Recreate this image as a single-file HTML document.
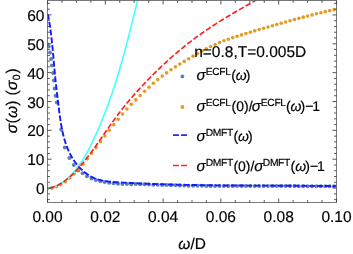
<!DOCTYPE html><html><head><meta charset="utf-8"><style>html,body{margin:0;padding:0;background:#fff;width:353px;height:254px;overflow:hidden}</style></head><body><svg width="353" height="254" viewBox="0 0 353 254" style="position:absolute;left:0;top:0;will-change:transform;font-family:'Liberation Sans',sans-serif">
<rect width="353" height="254" fill="#fff"/>
<defs><clipPath id="c"><rect x="47.50" y="0.50" width="289.00" height="202.00"/></clipPath></defs>
<g clip-path="url(#c)">
<circle cx="47.60" cy="44.50" r="2.00" fill="#5e81b5"/>
<circle cx="48.70" cy="46.40" r="2.00" fill="#5e81b5"/>
<circle cx="50.00" cy="52.60" r="2.00" fill="#5e81b5"/>
<circle cx="51.10" cy="58.90" r="2.00" fill="#5e81b5"/>
<circle cx="51.90" cy="65.40" r="2.00" fill="#5e81b5"/>
<circle cx="53.10" cy="72.90" r="2.00" fill="#5e81b5"/>
<circle cx="53.90" cy="80.40" r="2.00" fill="#5e81b5"/>
<circle cx="54.70" cy="88.40" r="2.00" fill="#5e81b5"/>
<circle cx="55.60" cy="95.70" r="2.00" fill="#5e81b5"/>
<circle cx="56.80" cy="102.60" r="2.00" fill="#5e81b5"/>
<circle cx="61.20" cy="129.50" r="2.00" fill="#5e81b5"/>
<circle cx="64.80" cy="147.40" r="2.00" fill="#5e81b5"/>
<circle cx="69.40" cy="158.00" r="2.00" fill="#5e81b5"/>
<circle cx="73.80" cy="165.00" r="2.00" fill="#5e81b5"/>
<circle cx="78.20" cy="170.60" r="2.00" fill="#5e81b5"/>
<circle cx="82.60" cy="173.20" r="2.00" fill="#5e81b5"/>
<circle cx="87.00" cy="176.20" r="2.00" fill="#5e81b5"/>
<circle cx="91.50" cy="178.50" r="2.00" fill="#5e81b5"/>
<circle cx="95.90" cy="180.10" r="2.00" fill="#5e81b5"/>
<circle cx="100.30" cy="181.20" r="2.00" fill="#5e81b5"/>
<circle cx="104.70" cy="182.10" r="2.00" fill="#5e81b5"/>
<circle cx="109.20" cy="182.80" r="2.00" fill="#5e81b5"/>
<circle cx="113.60" cy="183.30" r="2.00" fill="#5e81b5"/>
<circle cx="118.00" cy="183.70" r="2.00" fill="#5e81b5"/>
<circle cx="122.40" cy="183.90" r="2.00" fill="#5e81b5"/>
<circle cx="126.90" cy="184.10" r="2.00" fill="#5e81b5"/>
<circle cx="131.30" cy="184.30" r="2.00" fill="#5e81b5"/>
<circle cx="135.71" cy="183.95" r="2.00" fill="#5e81b5"/>
<circle cx="140.12" cy="184.15" r="2.00" fill="#5e81b5"/>
<circle cx="144.52" cy="184.34" r="2.00" fill="#5e81b5"/>
<circle cx="148.93" cy="184.51" r="2.00" fill="#5e81b5"/>
<circle cx="153.34" cy="184.68" r="2.00" fill="#5e81b5"/>
<circle cx="157.75" cy="184.83" r="2.00" fill="#5e81b5"/>
<circle cx="162.16" cy="184.97" r="2.00" fill="#5e81b5"/>
<circle cx="166.56" cy="185.11" r="2.00" fill="#5e81b5"/>
<circle cx="170.97" cy="185.23" r="2.00" fill="#5e81b5"/>
<circle cx="175.38" cy="185.34" r="2.00" fill="#5e81b5"/>
<circle cx="179.79" cy="185.45" r="2.00" fill="#5e81b5"/>
<circle cx="184.20" cy="185.55" r="2.00" fill="#5e81b5"/>
<circle cx="188.60" cy="185.64" r="2.00" fill="#5e81b5"/>
<circle cx="193.01" cy="185.72" r="2.00" fill="#5e81b5"/>
<circle cx="197.42" cy="185.80" r="2.00" fill="#5e81b5"/>
<circle cx="201.83" cy="185.86" r="2.00" fill="#5e81b5"/>
<circle cx="206.24" cy="185.90" r="2.00" fill="#5e81b5"/>
<circle cx="210.64" cy="185.94" r="2.00" fill="#5e81b5"/>
<circle cx="215.05" cy="185.98" r="2.00" fill="#5e81b5"/>
<circle cx="219.46" cy="186.01" r="2.00" fill="#5e81b5"/>
<circle cx="223.87" cy="186.03" r="2.00" fill="#5e81b5"/>
<circle cx="228.28" cy="186.05" r="2.00" fill="#5e81b5"/>
<circle cx="232.68" cy="186.07" r="2.00" fill="#5e81b5"/>
<circle cx="237.09" cy="186.08" r="2.00" fill="#5e81b5"/>
<circle cx="241.50" cy="186.09" r="2.00" fill="#5e81b5"/>
<circle cx="245.91" cy="186.10" r="2.00" fill="#5e81b5"/>
<circle cx="250.32" cy="186.11" r="2.00" fill="#5e81b5"/>
<circle cx="254.72" cy="186.11" r="2.00" fill="#5e81b5"/>
<circle cx="259.13" cy="186.11" r="2.00" fill="#5e81b5"/>
<circle cx="263.54" cy="186.11" r="2.00" fill="#5e81b5"/>
<circle cx="267.95" cy="186.11" r="2.00" fill="#5e81b5"/>
<circle cx="272.36" cy="186.11" r="2.00" fill="#5e81b5"/>
<circle cx="276.76" cy="186.11" r="2.00" fill="#5e81b5"/>
<circle cx="281.17" cy="186.11" r="2.00" fill="#5e81b5"/>
<circle cx="285.58" cy="186.11" r="2.00" fill="#5e81b5"/>
<circle cx="289.99" cy="186.11" r="2.00" fill="#5e81b5"/>
<circle cx="294.40" cy="186.12" r="2.00" fill="#5e81b5"/>
<circle cx="298.80" cy="186.13" r="2.00" fill="#5e81b5"/>
<circle cx="303.21" cy="186.13" r="2.00" fill="#5e81b5"/>
<circle cx="307.62" cy="186.15" r="2.00" fill="#5e81b5"/>
<circle cx="312.03" cy="186.16" r="2.00" fill="#5e81b5"/>
<circle cx="316.44" cy="186.18" r="2.00" fill="#5e81b5"/>
<circle cx="320.84" cy="186.20" r="2.00" fill="#5e81b5"/>
<circle cx="325.25" cy="186.23" r="2.00" fill="#5e81b5"/>
<circle cx="329.66" cy="186.27" r="2.00" fill="#5e81b5"/>
<circle cx="334.07" cy="186.30" r="2.00" fill="#5e81b5"/>
<circle cx="47.60" cy="188.49" r="1.80" fill="#e19c24"/>
<circle cx="52.01" cy="188.14" r="1.80" fill="#e19c24"/>
<circle cx="56.42" cy="186.82" r="1.80" fill="#e19c24"/>
<circle cx="60.82" cy="184.62" r="1.80" fill="#e19c24"/>
<circle cx="65.23" cy="181.66" r="1.80" fill="#e19c24"/>
<circle cx="69.64" cy="178.05" r="1.80" fill="#e19c24"/>
<circle cx="74.05" cy="173.87" r="1.80" fill="#e19c24"/>
<circle cx="78.46" cy="169.23" r="1.80" fill="#e19c24"/>
<circle cx="82.86" cy="164.20" r="1.80" fill="#e19c24"/>
<circle cx="87.27" cy="158.86" r="1.80" fill="#e19c24"/>
<circle cx="91.68" cy="153.30" r="1.80" fill="#e19c24"/>
<circle cx="96.09" cy="147.59" r="1.80" fill="#e19c24"/>
<circle cx="100.50" cy="141.80" r="1.80" fill="#e19c24"/>
<circle cx="104.90" cy="136.01" r="1.80" fill="#e19c24"/>
<circle cx="109.31" cy="130.27" r="1.80" fill="#e19c24"/>
<circle cx="113.72" cy="124.65" r="1.80" fill="#e19c24"/>
<circle cx="118.13" cy="119.21" r="1.80" fill="#e19c24"/>
<circle cx="122.54" cy="114.00" r="1.80" fill="#e19c24"/>
<circle cx="126.94" cy="109.07" r="1.80" fill="#e19c24"/>
<circle cx="131.35" cy="104.37" r="1.80" fill="#e19c24"/>
<circle cx="135.76" cy="99.88" r="1.80" fill="#e19c24"/>
<circle cx="140.17" cy="95.53" r="1.80" fill="#e19c24"/>
<circle cx="144.58" cy="91.30" r="1.80" fill="#e19c24"/>
<circle cx="148.98" cy="87.21" r="1.80" fill="#e19c24"/>
<circle cx="153.39" cy="83.29" r="1.80" fill="#e19c24"/>
<circle cx="157.80" cy="79.58" r="1.80" fill="#e19c24"/>
<circle cx="162.21" cy="76.11" r="1.80" fill="#e19c24"/>
<circle cx="166.62" cy="72.86" r="1.80" fill="#e19c24"/>
<circle cx="171.02" cy="69.79" r="1.80" fill="#e19c24"/>
<circle cx="175.43" cy="66.87" r="1.80" fill="#e19c24"/>
<circle cx="179.84" cy="64.08" r="1.80" fill="#e19c24"/>
<circle cx="184.25" cy="61.38" r="1.80" fill="#e19c24"/>
<circle cx="188.66" cy="58.74" r="1.80" fill="#e19c24"/>
<circle cx="193.06" cy="56.15" r="1.80" fill="#e19c24"/>
<circle cx="197.47" cy="53.62" r="1.80" fill="#e19c24"/>
<circle cx="201.88" cy="51.16" r="1.80" fill="#e19c24"/>
<circle cx="206.29" cy="48.81" r="1.80" fill="#e19c24"/>
<circle cx="210.70" cy="46.57" r="1.80" fill="#e19c24"/>
<circle cx="215.10" cy="44.49" r="1.80" fill="#e19c24"/>
<circle cx="219.51" cy="42.56" r="1.80" fill="#e19c24"/>
<circle cx="223.92" cy="40.82" r="1.80" fill="#e19c24"/>
<circle cx="228.33" cy="39.22" r="1.80" fill="#e19c24"/>
<circle cx="232.74" cy="37.72" r="1.80" fill="#e19c24"/>
<circle cx="237.14" cy="36.30" r="1.80" fill="#e19c24"/>
<circle cx="241.55" cy="34.90" r="1.80" fill="#e19c24"/>
<circle cx="245.96" cy="33.54" r="1.80" fill="#e19c24"/>
<circle cx="250.37" cy="32.19" r="1.80" fill="#e19c24"/>
<circle cx="254.78" cy="30.87" r="1.80" fill="#e19c24"/>
<circle cx="259.18" cy="29.57" r="1.80" fill="#e19c24"/>
<circle cx="263.59" cy="28.28" r="1.80" fill="#e19c24"/>
<circle cx="268.00" cy="27.00" r="1.80" fill="#e19c24"/>
<circle cx="272.41" cy="25.73" r="1.80" fill="#e19c24"/>
<circle cx="276.82" cy="24.47" r="1.80" fill="#e19c24"/>
<circle cx="281.22" cy="23.22" r="1.80" fill="#e19c24"/>
<circle cx="285.63" cy="21.98" r="1.80" fill="#e19c24"/>
<circle cx="290.04" cy="20.75" r="1.80" fill="#e19c24"/>
<circle cx="294.45" cy="19.54" r="1.80" fill="#e19c24"/>
<circle cx="298.86" cy="18.34" r="1.80" fill="#e19c24"/>
<circle cx="303.26" cy="17.16" r="1.80" fill="#e19c24"/>
<circle cx="307.67" cy="16.01" r="1.80" fill="#e19c24"/>
<circle cx="312.08" cy="14.88" r="1.80" fill="#e19c24"/>
<circle cx="316.49" cy="13.77" r="1.80" fill="#e19c24"/>
<circle cx="320.90" cy="12.69" r="1.80" fill="#e19c24"/>
<circle cx="325.30" cy="11.65" r="1.80" fill="#e19c24"/>
<circle cx="329.71" cy="10.63" r="1.80" fill="#e19c24"/>
<circle cx="334.12" cy="9.65" r="1.80" fill="#e19c24"/>
<path d="M47.50,188.03 C47.80,188.01 48.70,187.95 49.30,187.87 C49.90,187.79 50.50,187.69 51.11,187.57 C51.71,187.44 52.31,187.29 52.91,187.12 C53.51,186.95 54.11,186.75 54.71,186.53 C55.31,186.32 55.91,186.08 56.51,185.82 C57.11,185.56 57.71,185.27 58.32,184.97 C58.92,184.67 59.52,184.34 60.12,184.00 C60.72,183.66 61.32,183.29 61.92,182.91 C62.52,182.53 63.12,182.13 63.72,181.71 C64.32,181.29 64.92,180.85 65.53,180.40 C66.13,179.94 66.73,179.47 67.33,178.98 C67.93,178.49 68.53,177.98 69.13,177.45 C69.73,176.93 69.64,177.37 70.93,175.84 C72.22,174.30 75.69,169.80 76.86,168.26 C78.03,166.73 77.59,167.16 77.97,166.60 C78.34,166.05 78.73,165.49 79.12,164.94 C79.52,164.39 79.92,163.83 80.32,163.28 C80.72,162.73 81.12,162.17 81.52,161.62 C81.91,161.06 82.30,160.51 82.68,159.96 C83.05,159.40 83.42,158.85 83.77,158.30 C84.12,157.74 84.46,157.19 84.79,156.63 C85.12,156.08 85.43,155.53 85.75,154.97 C86.06,154.42 86.36,153.87 86.66,153.31 C86.96,152.76 87.25,152.20 87.54,151.65 C87.82,151.10 88.11,150.54 88.39,149.99 C88.67,149.44 88.95,148.88 89.23,148.33 C89.51,147.77 89.79,147.22 90.06,146.67 C90.34,146.11 90.61,145.56 90.89,145.01 C91.16,144.45 91.43,143.90 91.70,143.34 C91.97,142.79 92.23,142.24 92.50,141.68 C92.76,141.13 93.03,140.57 93.29,140.02 C93.55,139.47 93.81,138.91 94.07,138.36 C94.33,137.81 94.59,137.25 94.85,136.70 C95.10,136.14 95.36,135.59 95.61,135.04 C95.86,134.48 96.11,133.93 96.36,133.38 C96.61,132.82 96.86,132.27 97.11,131.71 C97.36,131.16 97.60,130.61 97.84,130.05 C98.09,129.50 98.33,128.95 98.57,128.39 C98.81,127.84 99.05,127.28 99.29,126.73 C99.53,126.18 99.76,125.62 100.00,125.07 C100.23,124.52 100.47,123.96 100.70,123.41 C100.93,122.85 101.16,122.30 101.39,121.75 C101.62,121.19 101.85,120.64 102.08,120.08 C102.30,119.53 102.53,118.98 102.75,118.42 C102.98,117.87 103.20,117.32 103.42,116.76 C103.64,116.21 103.86,115.65 104.08,115.10 C104.30,114.55 104.52,113.99 104.74,113.44 C104.95,112.89 105.17,112.33 105.38,111.78 C105.59,111.22 105.81,110.67 106.02,110.12 C106.23,109.56 106.44,109.01 106.65,108.46 C106.86,107.90 107.06,107.35 107.27,106.79 C107.48,106.24 107.68,105.69 107.89,105.13 C108.09,104.58 108.29,104.03 108.49,103.47 C108.70,102.92 108.90,102.36 109.10,101.81 C109.30,101.26 109.49,100.70 109.69,100.15 C109.89,99.59 110.08,99.04 110.28,98.49 C110.47,97.93 110.67,97.38 110.86,96.83 C111.05,96.27 111.24,95.72 111.44,95.16 C111.63,94.61 111.82,94.06 112.00,93.50 C112.19,92.95 112.38,92.40 112.57,91.84 C112.75,91.29 112.94,90.73 113.12,90.18 C113.31,89.63 113.49,89.07 113.67,88.52 C113.86,87.97 114.04,87.41 114.22,86.86 C114.40,86.30 114.58,85.75 114.76,85.20 C114.94,84.64 115.11,84.09 115.29,83.54 C115.47,82.98 115.64,82.43 115.82,81.87 C115.99,81.32 116.17,80.77 116.34,80.21 C116.52,79.66 116.69,79.11 116.86,78.55 C117.03,78.00 117.20,77.44 117.37,76.89 C117.54,76.34 117.71,75.78 117.88,75.23 C118.05,74.67 118.22,74.12 118.38,73.57 C118.55,73.01 118.71,72.46 118.88,71.91 C119.05,71.35 119.21,70.80 119.37,70.24 C119.54,69.69 119.70,69.14 119.86,68.58 C120.02,68.03 120.19,67.48 120.35,66.92 C120.51,66.37 120.67,65.81 120.83,65.26 C120.99,64.71 121.14,64.15 121.30,63.60 C121.46,63.05 121.62,62.49 121.78,61.94 C121.93,61.38 122.09,60.83 122.24,60.28 C122.40,59.72 122.55,59.17 122.71,58.62 C122.86,58.06 123.02,57.51 123.17,56.95 C123.32,56.40 123.48,55.85 123.63,55.29 C123.78,54.74 123.93,54.18 124.08,53.63 C124.23,53.08 124.38,52.52 124.53,51.97 C124.68,51.42 124.83,50.86 124.98,50.31 C125.13,49.75 125.28,49.20 125.42,48.65 C125.57,48.09 125.72,47.54 125.87,46.99 C126.01,46.43 126.16,45.88 126.31,45.32 C126.45,44.77 126.60,44.22 126.74,43.66 C126.89,43.11 127.03,42.56 127.18,42.00 C127.32,41.45 127.47,40.89 127.61,40.34 C127.75,39.79 127.90,39.23 128.04,38.68 C128.18,38.13 128.32,37.57 128.47,37.02 C128.61,36.46 128.75,35.91 128.89,35.36 C129.03,34.80 129.17,34.25 129.31,33.69 C129.46,33.14 129.60,32.59 129.74,32.03 C129.88,31.48 130.02,30.93 130.16,30.37 C130.30,29.82 130.44,29.26 130.58,28.71 C130.71,28.16 130.85,27.60 130.99,27.05 C131.13,26.50 131.27,25.94 131.41,25.39 C131.55,24.83 131.69,24.28 131.82,23.73 C131.96,23.17 132.10,22.62 132.24,22.07 C132.37,21.51 132.51,20.96 132.65,20.40 C132.79,19.85 132.92,19.30 133.06,18.74 C133.20,18.19 133.34,17.64 133.47,17.08 C133.61,16.53 133.75,15.97 133.88,15.42 C134.02,14.87 134.16,14.31 134.30,13.76 C134.43,13.21 134.57,12.65 134.71,12.10 C134.84,11.54 134.98,10.99 135.12,10.44 C135.25,9.88 135.39,9.33 135.53,8.77 C135.66,8.22 135.80,7.67 135.94,7.11 C136.07,6.56 136.21,6.01 136.35,5.45 C136.48,4.90 136.62,4.34 136.76,3.79 C136.89,3.24 137.03,2.68 137.17,2.13 C137.31,1.58 137.44,1.02 137.58,0.47 C137.72,-0.09 137.85,-0.64 137.99,-1.19 C138.13,-1.75 138.27,-2.30 138.41,-2.85 C138.54,-3.41 138.68,-3.96 138.82,-4.52 C138.96,-5.07 139.10,-5.62 139.24,-6.18 C139.37,-6.73 139.51,-7.28 139.65,-7.84 C139.79,-8.39 140.00,-9.22 140.07,-9.50" fill="none" stroke="#44ffff" stroke-width="1.60"/>
<path d="M47.88,14.31 C47.95,14.67 48.17,15.75 48.31,16.46 C48.45,17.18 48.58,17.89 48.71,18.60 C48.84,19.32 48.97,20.03 49.09,20.74 C49.22,21.45 49.33,22.16 49.45,22.87 C49.57,23.57 49.68,24.28 49.79,24.99 C49.90,25.69 50.01,26.40 50.11,27.10 C50.21,27.81 50.31,28.51 50.41,29.21 C50.51,29.91 50.60,30.62 50.70,31.32 C50.79,32.02 50.88,32.72 50.97,33.41 C51.05,34.11 51.14,34.81 51.22,35.51 C51.31,36.21 51.39,36.90 51.47,37.60 C51.55,38.29 51.62,38.99 51.70,39.68 C51.78,40.38 51.85,41.07 51.92,41.77 C52.00,42.46 52.07,43.15 52.14,43.84 C52.21,44.54 52.28,45.23 52.35,45.92 C52.41,46.61 52.48,47.30 52.55,47.99 C52.61,48.68 52.68,49.37 52.74,50.06 C52.81,50.75 52.87,51.44 52.93,52.13 C53.00,52.82 53.06,53.51 53.12,54.20 C53.18,54.89 53.24,55.58 53.31,56.26 C53.37,56.95 53.43,57.64 53.49,58.33 C53.55,59.02 53.61,59.71 53.67,60.39 C53.73,61.08 53.79,61.77 53.85,62.46 C53.91,63.14 53.98,63.83 54.04,64.52 C54.10,65.21 54.16,65.90 54.22,66.58 C54.28,67.27 54.34,67.96 54.41,68.65 C54.47,69.34 54.53,70.02 54.60,70.71 C54.66,71.40 54.72,72.09 54.79,72.78 C54.85,73.47 54.92,74.16 54.99,74.85 C55.05,75.54 55.12,76.23 55.19,76.92 C55.26,77.61 55.33,78.30 55.40,78.99 C55.47,79.68 55.55,80.37 55.62,81.07 C55.69,81.76 55.77,82.45 55.84,83.15 C55.92,83.84 56.00,84.53 56.08,85.23 C56.15,85.92 56.23,86.62 56.31,87.31 C56.39,88.01 56.47,88.70 56.55,89.40 C56.64,90.10 56.72,90.80 56.80,91.50 C56.88,92.19 56.97,92.89 57.05,93.59 C57.13,94.29 57.22,95.00 57.30,95.70 C57.39,96.40 57.47,97.10 57.56,97.81 C57.64,98.51 57.73,99.22 57.81,99.92 C57.90,100.63 57.99,101.33 58.07,102.04 C58.16,102.75 58.24,103.46 58.33,104.17 C58.41,104.88 58.50,105.59 58.59,106.30 C58.67,107.01 58.76,107.73 58.85,108.44 C58.94,109.15 59.02,109.87 59.11,110.58 C59.20,111.30 59.29,112.01 59.39,112.73 C59.48,113.44 59.57,114.15 59.67,114.87 C59.76,115.58 59.86,116.30 59.96,117.01 C60.06,117.72 60.16,118.44 60.27,119.15 C60.38,119.86 60.48,120.57 60.60,121.29 C60.71,122.00 60.82,122.71 60.94,123.42 C61.06,124.12 61.18,124.83 61.30,125.54 C61.43,126.24 61.56,126.95 61.69,127.65 C61.83,128.35 61.96,129.06 62.11,129.75 C62.25,130.45 62.40,131.15 62.55,131.85 C62.70,132.54 62.86,133.23 63.02,133.93 C63.18,134.62 63.35,135.30 63.53,135.99 C63.70,136.67 63.88,137.36 64.07,138.04 C64.25,138.72 64.44,139.39 64.64,140.07 C64.84,140.74 65.05,141.41 65.26,142.08 C65.47,142.74 65.69,143.41 65.92,144.07 C66.15,144.73 66.38,145.38 66.63,146.04 C66.87,146.69 67.12,147.34 67.38,147.98 C67.63,148.62 67.90,149.26 68.18,149.90 C68.45,150.53 68.73,151.16 69.03,151.79 C69.32,152.42 69.62,153.04 69.93,153.65 C70.24,154.27 70.56,154.88 70.89,155.49 C71.22,156.09 71.56,156.69 71.91,157.29 C72.26,157.89 72.62,158.48 72.99,159.06 C73.36,159.64 73.74,160.22 74.14,160.80 C74.53,161.37 74.93,161.94 75.35,162.50 C75.76,163.06 76.18,163.61 76.62,164.16 C77.06,164.71 77.51,165.25 77.97,165.78 C78.43,166.32 78.90,166.84 79.38,167.36 C79.86,167.88 80.36,168.39 80.86,168.89 C81.36,169.38 81.88,169.87 82.40,170.35 C82.92,170.83 83.46,171.29 84.00,171.75 C84.54,172.20 85.09,172.64 85.65,173.07 C86.21,173.49 86.78,173.91 87.36,174.30 C87.94,174.70 88.52,175.08 89.11,175.45 C89.71,175.82 90.31,176.17 90.91,176.50 C91.52,176.83 92.14,177.14 92.76,177.44 C93.38,177.73 94.01,178.01 94.64,178.27 C95.28,178.53 95.92,178.77 96.56,178.99 C97.21,179.22 97.86,179.42 98.52,179.62 C99.17,179.81 99.84,179.99 100.50,180.15 C101.17,180.32 101.84,180.47 102.51,180.61 C103.19,180.75 103.87,180.87 104.55,180.99 C105.23,181.11 105.92,181.21 106.61,181.31 C107.30,181.41 107.99,181.50 108.68,181.58 C109.38,181.66 110.07,181.73 110.77,181.80 C111.47,181.87 112.17,181.93 112.87,181.98 C113.58,182.04 114.28,182.09 114.99,182.14 C115.69,182.19 116.40,182.23 117.10,182.27 C117.81,182.32 118.51,182.36 119.22,182.40 C119.93,182.44 120.63,182.48 121.34,182.52 C122.05,182.56 122.75,182.59 123.46,182.63 C124.16,182.67 124.87,182.71 125.58,182.75 C126.28,182.78 126.99,182.82 127.69,182.86 C128.40,182.89 129.10,182.93 129.81,182.97 C130.52,183.00 131.22,183.04 131.93,183.07 C132.63,183.11 133.34,183.14 134.04,183.17 C134.75,183.21 135.45,183.24 136.16,183.27 C136.87,183.30 137.57,183.34 138.28,183.37 C138.98,183.40 139.69,183.43 140.39,183.46 C141.10,183.49 141.80,183.52 142.51,183.55 C143.21,183.58 143.92,183.61 144.62,183.64 C145.33,183.67 146.03,183.70 146.74,183.73 C147.44,183.75 148.15,183.78 148.85,183.81 C149.56,183.84 150.26,183.86 150.97,183.89 C151.67,183.92 152.37,183.94 153.08,183.97 C153.78,183.99 154.49,184.02 155.19,184.04 C155.90,184.07 156.60,184.09 157.31,184.11 C158.01,184.14 158.72,184.16 159.42,184.19 C160.12,184.21 160.83,184.23 161.53,184.25 C162.24,184.28 162.94,184.30 163.64,184.32 C164.35,184.34 165.05,184.36 165.76,184.38 C166.46,184.40 167.17,184.42 167.87,184.44 C168.57,184.46 169.28,184.48 169.98,184.50 C170.69,184.52 171.39,184.54 172.09,184.56 C172.80,184.58 173.50,184.60 174.20,184.62 C174.91,184.63 175.61,184.65 176.32,184.67 C177.02,184.69 177.72,184.70 178.43,184.72 C179.13,184.74 179.83,184.75 180.54,184.77 C181.24,184.78 181.94,184.80 182.65,184.82 C183.35,184.83 184.05,184.85 184.76,184.86 C185.46,184.88 186.16,184.89 186.87,184.90 C187.57,184.92 188.27,184.93 188.98,184.95 C189.68,184.96 190.38,184.97 191.09,184.99 C191.79,185.00 192.49,185.01 193.20,185.02 C193.90,185.04 194.60,185.05 195.31,185.06 C196.01,185.07 196.71,185.08 197.42,185.10 C198.12,185.11 198.82,185.12 199.52,185.13 C200.23,185.14 200.93,185.15 201.63,185.16 C202.34,185.17 203.04,185.18 203.74,185.19 C204.45,185.20 205.15,185.21 205.85,185.22 C206.55,185.23 207.26,185.24 207.96,185.25 C208.66,185.26 209.36,185.27 210.07,185.28 C210.77,185.29 211.47,185.29 212.18,185.30 C212.88,185.31 213.58,185.32 214.28,185.33 C214.99,185.33 215.69,185.34 216.39,185.35 C217.09,185.36 217.80,185.36 218.50,185.37 C219.20,185.38 219.90,185.38 220.61,185.39 C221.31,185.40 222.01,185.40 222.71,185.41 C223.42,185.42 224.12,185.42 224.82,185.43 C225.52,185.44 226.23,185.44 226.93,185.45 C227.63,185.45 228.33,185.46 229.04,185.46 C229.74,185.47 230.44,185.47 231.14,185.48 C231.85,185.48 232.55,185.49 233.25,185.49 C233.95,185.50 234.65,185.50 235.36,185.51 C236.06,185.51 236.76,185.52 237.46,185.52 C238.17,185.53 238.87,185.53 239.57,185.53 C240.27,185.54 240.98,185.54 241.68,185.55 C242.38,185.55 243.08,185.55 243.78,185.56 C244.49,185.56 245.19,185.57 245.89,185.57 C246.59,185.57 247.30,185.58 248.00,185.58 C248.70,185.58 249.40,185.59 250.10,185.59 C250.81,185.59 251.51,185.60 252.21,185.60 C252.91,185.60 253.61,185.61 254.32,185.61 C255.02,185.61 255.72,185.61 256.42,185.62 C257.12,185.62 257.83,185.62 258.53,185.63 C259.23,185.63 259.93,185.63 260.64,185.63 C261.34,185.64 262.04,185.64 262.74,185.64 C263.44,185.64 264.15,185.65 264.85,185.65 C265.55,185.65 266.25,185.65 266.95,185.66 C267.66,185.66 268.36,185.66 269.06,185.66 C269.76,185.67 270.46,185.67 271.17,185.67 C271.87,185.67 272.57,185.68 273.27,185.68 C273.98,185.68 274.68,185.68 275.38,185.69 C276.08,185.69 276.78,185.69 277.49,185.69 C278.19,185.70 278.89,185.70 279.59,185.70 C280.29,185.71 281.00,185.71 281.70,185.71 C282.40,185.71 283.10,185.72 283.80,185.72 C284.51,185.72 285.21,185.72 285.91,185.73 C286.61,185.73 287.32,185.73 288.02,185.74 C288.72,185.74 289.42,185.74 290.12,185.75 C290.83,185.75 291.53,185.75 292.23,185.76 C292.93,185.76 293.63,185.76 294.34,185.77 C295.04,185.77 295.74,185.77 296.44,185.78 C297.15,185.78 297.85,185.78 298.55,185.79 C299.25,185.79 299.95,185.79 300.66,185.80 C301.36,185.80 302.06,185.81 302.76,185.81 C303.47,185.82 304.17,185.82 304.87,185.82 C305.57,185.83 306.28,185.83 306.98,185.84 C307.68,185.84 308.38,185.85 309.09,185.85 C309.79,185.86 310.49,185.86 311.19,185.87 C311.89,185.87 312.60,185.88 313.30,185.88 C314.00,185.89 314.70,185.89 315.41,185.90 C316.11,185.91 316.81,185.91 317.51,185.92 C318.22,185.92 318.92,185.93 319.62,185.94 C320.32,185.94 321.03,185.95 321.73,185.96 C322.43,185.96 323.14,185.97 323.84,185.98 C324.54,185.99 325.24,185.99 325.95,186.00 C326.65,186.01 327.35,186.02 328.05,186.02 C328.76,186.03 329.46,186.04 330.16,186.05 C330.87,186.06 331.57,186.07 332.27,186.07 C332.97,186.08 333.68,186.09 334.38,186.10 C335.08,186.11 336.14,186.12 336.49,186.13" fill="none" stroke="#1818ff" stroke-width="1.90" stroke-dasharray="5.75 2.1" stroke-dashoffset="0.2"/>
<path d="M47.50,188.03 C47.80,188.01 48.70,187.95 49.30,187.87 C49.90,187.79 50.50,187.69 51.11,187.57 C51.71,187.44 52.31,187.29 52.91,187.12 C53.51,186.95 54.11,186.75 54.71,186.53 C55.31,186.32 55.91,186.08 56.51,185.82 C57.11,185.56 57.71,185.27 58.32,184.97 C58.92,184.67 59.52,184.34 60.12,184.00 C60.72,183.66 61.32,183.29 61.92,182.91 C62.52,182.53 63.12,182.13 63.72,181.71 C64.32,181.29 64.92,180.85 65.53,180.40 C66.13,179.94 66.73,179.47 67.33,178.98 C67.93,178.49 68.53,177.98 69.13,177.45 C69.73,176.93 70.33,176.39 70.93,175.84 C71.53,175.28 72.13,174.71 72.74,174.12 C73.34,173.54 73.94,172.94 74.54,172.32 C75.14,171.71 75.74,171.08 76.34,170.44 C76.94,169.80 77.54,169.14 78.14,168.48 C78.74,167.81 79.34,167.13 79.95,166.44 C80.55,165.74 81.15,165.04 81.75,164.33 C82.35,163.61 82.95,162.89 83.55,162.15 C84.15,161.41 84.75,160.67 85.35,159.91 C85.95,159.16 86.55,158.39 87.16,157.62 C87.76,156.84 88.36,156.06 88.96,155.27 C89.56,154.48 90.16,153.68 90.76,152.87 C91.36,152.06 91.96,151.25 92.56,150.43 C93.16,149.61 93.76,148.78 94.37,147.95 C94.97,147.11 95.57,146.27 96.17,145.43 C96.77,144.58 97.37,143.73 97.97,142.88 C98.57,142.03 99.17,141.17 99.77,140.31 C100.37,139.45 100.97,138.59 101.58,137.73 C102.18,136.86 102.78,136.00 103.38,135.13 C103.98,134.27 104.58,133.40 105.18,132.53 C105.78,131.67 106.38,130.80 106.98,129.94 C107.58,129.07 108.18,128.21 108.79,127.35 C109.39,126.49 109.99,125.63 110.59,124.78 C111.19,123.92 111.79,123.07 112.39,122.23 C112.99,121.38 113.59,120.54 114.19,119.71 C114.79,118.87 115.39,118.05 116.00,117.22 C116.60,116.40 117.20,115.59 117.80,114.78 C118.40,113.97 119.00,113.17 119.60,112.39 C120.20,111.60 120.80,110.81 121.40,110.04 C122.00,109.27 122.61,108.50 123.21,107.75 C123.81,106.99 124.41,106.24 125.01,105.50 C125.61,104.76 126.21,104.02 126.81,103.30 C127.41,102.57 128.01,101.85 128.61,101.14 C129.21,100.42 129.82,99.71 130.42,99.01 C131.02,98.31 131.62,97.62 132.22,96.93 C132.82,96.24 133.42,95.55 134.02,94.87 C134.62,94.19 135.22,93.52 135.82,92.85 C136.42,92.18 137.03,91.52 137.63,90.86 C138.23,90.19 138.83,89.54 139.43,88.89 C140.03,88.23 140.63,87.58 141.23,86.94 C141.83,86.29 142.43,85.65 143.03,85.01 C143.63,84.37 144.24,83.74 144.84,83.11 C145.44,82.48 146.04,81.85 146.64,81.22 C147.24,80.60 147.84,79.98 148.44,79.36 C149.04,78.74 149.64,78.13 150.24,77.52 C150.84,76.90 151.45,76.30 152.05,75.69 C152.65,75.09 153.25,74.49 153.85,73.89 C154.45,73.29 155.05,72.70 155.65,72.11 C156.25,71.52 156.85,70.93 157.45,70.35 C158.05,69.76 158.66,69.18 159.26,68.61 C159.86,68.03 160.46,67.46 161.06,66.89 C161.66,66.32 162.26,65.75 162.86,65.19 C163.46,64.62 164.06,64.06 164.66,63.51 C165.26,62.95 165.87,62.40 166.47,61.85 C167.07,61.30 167.67,60.75 168.27,60.21 C168.87,59.66 169.47,59.12 170.07,58.59 C170.67,58.05 171.27,57.52 171.87,56.99 C172.47,56.46 173.08,55.93 173.68,55.41 C174.28,54.88 174.88,54.36 175.48,53.85 C176.08,53.33 176.68,52.81 177.28,52.30 C177.88,51.79 178.48,51.29 179.08,50.78 C179.68,50.28 180.29,49.78 180.89,49.28 C181.49,48.78 182.09,48.29 182.69,47.80 C183.29,47.31 183.89,46.82 184.49,46.34 C185.09,45.85 185.69,45.37 186.29,44.89 C186.89,44.42 187.50,43.94 188.10,43.47 C188.70,43.00 189.30,42.53 189.90,42.07 C190.50,41.60 191.10,41.14 191.70,40.68 C192.30,40.22 192.90,39.77 193.50,39.31 C194.11,38.86 194.71,38.41 195.31,37.97 C195.91,37.52 196.51,37.08 197.11,36.64 C197.71,36.20 198.31,35.76 198.91,35.33 C199.51,34.90 200.11,34.47 200.71,34.04 C201.32,33.61 201.92,33.19 202.52,32.77 C203.12,32.35 203.72,31.93 204.32,31.51 C204.92,31.10 205.52,30.69 206.12,30.28 C206.72,29.87 207.32,29.46 207.92,29.06 C208.53,28.65 209.13,28.25 209.73,27.85 C210.33,27.45 210.93,27.06 211.53,26.66 C212.13,26.27 212.73,25.88 213.33,25.49 C213.93,25.10 214.53,24.71 215.13,24.32 C215.74,23.94 216.34,23.56 216.94,23.18 C217.54,22.80 218.14,22.42 218.74,22.04 C219.34,21.66 219.94,21.29 220.54,20.92 C221.14,20.54 221.74,20.17 222.34,19.80 C222.95,19.43 223.55,19.06 224.15,18.70 C224.75,18.33 225.35,17.97 225.95,17.60 C226.55,17.24 227.15,16.88 227.75,16.52 C228.35,16.16 228.95,15.80 229.55,15.44 C230.16,15.09 230.76,14.73 231.36,14.37 C231.96,14.02 232.56,13.66 233.16,13.31 C233.76,12.96 234.36,12.61 234.96,12.26 C235.56,11.90 236.16,11.55 236.76,11.21 C237.37,10.86 237.97,10.51 238.57,10.16 C239.17,9.81 239.77,9.47 240.37,9.12 C240.97,8.77 241.57,8.43 242.17,8.08 C242.77,7.74 243.37,7.39 243.97,7.05 C244.58,6.70 245.18,6.36 245.78,6.01 C246.38,5.67 246.98,5.33 247.58,4.98 C248.18,4.64 248.78,4.29 249.38,3.95 C249.98,3.61 250.58,3.26 251.18,2.92 C251.79,2.58 252.39,2.23 252.99,1.89 C253.59,1.55 254.19,1.20 254.79,0.86 C255.39,0.51 255.99,0.17 256.59,-0.18 C257.19,-0.52 257.79,-0.87 258.39,-1.21 C259.00,-1.56 259.60,-1.91 260.20,-2.25 C260.80,-2.60 261.70,-3.12 262.00,-3.30" fill="none" stroke="#ff1c1c" stroke-width="1.60" stroke-dasharray="5.5 2.25" stroke-dashoffset="5.75"/>
</g>
<g stroke="#585858" stroke-width="0.80" fill="none" shape-rendering="auto">
<rect x="47.50" y="0.50" width="289.00" height="202.00"/>
<path d="M47.50,202.50v-4.00M47.50,0.50v4.00M61.95,202.50v-2.40M61.95,0.50v2.40M76.40,202.50v-2.40M76.40,0.50v2.40M90.85,202.50v-2.40M90.85,0.50v2.40M105.30,202.50v-4.00M105.30,0.50v4.00M119.75,202.50v-2.40M119.75,0.50v2.40M134.20,202.50v-2.40M134.20,0.50v2.40M148.65,202.50v-2.40M148.65,0.50v2.40M163.10,202.50v-4.00M163.10,0.50v4.00M177.55,202.50v-2.40M177.55,0.50v2.40M192.00,202.50v-2.40M192.00,0.50v2.40M206.45,202.50v-2.40M206.45,0.50v2.40M220.90,202.50v-4.00M220.90,0.50v4.00M235.35,202.50v-2.40M235.35,0.50v2.40M249.80,202.50v-2.40M249.80,0.50v2.40M264.25,202.50v-2.40M264.25,0.50v2.40M278.70,202.50v-4.00M278.70,0.50v4.00M293.15,202.50v-2.40M293.15,0.50v2.40M307.60,202.50v-2.40M307.60,0.50v2.40M322.05,202.50v-2.40M322.05,0.50v2.40M336.50,202.50v-4.00M336.50,0.50v4.00M47.50,199.61h2.40M336.50,199.61h-2.40M47.50,193.84h2.40M336.50,193.84h-2.40M47.50,188.07h4.00M336.50,188.07h-4.00M47.50,182.30h2.40M336.50,182.30h-2.40M47.50,176.53h2.40M336.50,176.53h-2.40M47.50,170.76h2.40M336.50,170.76h-2.40M47.50,164.99h2.40M336.50,164.99h-2.40M47.50,159.21h4.00M336.50,159.21h-4.00M47.50,153.44h2.40M336.50,153.44h-2.40M47.50,147.67h2.40M336.50,147.67h-2.40M47.50,141.90h2.40M336.50,141.90h-2.40M47.50,136.13h2.40M336.50,136.13h-2.40M47.50,130.36h4.00M336.50,130.36h-4.00M47.50,124.59h2.40M336.50,124.59h-2.40M47.50,118.81h2.40M336.50,118.81h-2.40M47.50,113.04h2.40M336.50,113.04h-2.40M47.50,107.27h2.40M336.50,107.27h-2.40M47.50,101.50h4.00M336.50,101.50h-4.00M47.50,95.73h2.40M336.50,95.73h-2.40M47.50,89.96h2.40M336.50,89.96h-2.40M47.50,84.19h2.40M336.50,84.19h-2.40M47.50,78.41h2.40M336.50,78.41h-2.40M47.50,72.64h4.00M336.50,72.64h-4.00M47.50,66.87h2.40M336.50,66.87h-2.40M47.50,61.10h2.40M336.50,61.10h-2.40M47.50,55.33h2.40M336.50,55.33h-2.40M47.50,49.56h2.40M336.50,49.56h-2.40M47.50,43.79h4.00M336.50,43.79h-4.00M47.50,38.01h2.40M336.50,38.01h-2.40M47.50,32.24h2.40M336.50,32.24h-2.40M47.50,26.47h2.40M336.50,26.47h-2.40M47.50,20.70h2.40M336.50,20.70h-2.40M47.50,14.93h4.00M336.50,14.93h-4.00M47.50,9.16h2.40M336.50,9.16h-2.40M47.50,3.39h2.40M336.50,3.39h-2.40" stroke="#444" stroke-width="0.9"/>
</g>
<mask id="m"><rect width="353" height="254" fill="#fff"/></mask><g mask="url(#m)" text-rendering="geometricPrecision" stroke="#000" stroke-width="0.18"><g font-size="15.5" fill="#000">
<text x="47.50" y="222.20" text-anchor="middle">0.00</text>
<text x="105.30" y="222.20" text-anchor="middle">0.02</text>
<text x="163.10" y="222.20" text-anchor="middle">0.04</text>
<text x="220.90" y="222.20" text-anchor="middle">0.06</text>
<text x="278.70" y="222.20" text-anchor="middle">0.08</text>
<text x="336.50" y="222.20" text-anchor="middle">0.10</text>
<text x="44.50" y="194.17" text-anchor="end">0</text>
<text x="44.50" y="165.31" text-anchor="end">10</text>
<text x="44.50" y="136.46" text-anchor="end">20</text>
<text x="44.50" y="107.60" text-anchor="end">30</text>
<text x="44.50" y="78.74" text-anchor="end">40</text>
<text x="44.50" y="49.89" text-anchor="end">50</text>
<text x="44.50" y="21.03" text-anchor="end">60</text>
</g>
<text x="194.2" y="57.3" font-size="15.5">n=0.8,T=0.005D</text><text x="196.5" y="80.3" font-size="14"><tspan font-style="italic" font-size="15.2" dx="0">σ</tspan><tspan font-size="10.3" letter-spacing="-0.35" dy="-5.0" dx="0.0">ECFL</tspan><tspan dy="5.0" dx="0.55">(</tspan><tspan font-style="italic" dx="0">ω</tspan><tspan dx="-0.9">)</tspan></text><text x="196.5" y="110.5" font-size="14"><tspan font-style="italic" font-size="15.2" dx="0">σ</tspan><tspan font-size="10.3" letter-spacing="-0.35" dy="-5.0" dx="0.0">ECFL</tspan><tspan dy="5.0" dx="0.95">(0)/</tspan><tspan font-style="italic" font-size="15.2" dx="-0.7">σ</tspan><tspan font-size="10.3" letter-spacing="-0.35" dy="-5.0" dx="-0.2">ECFL</tspan><tspan dy="5.0" dx="0.14999999999999997">(</tspan><tspan font-style="italic" dx="0">ω</tspan><tspan dx="-0.9">)</tspan><tspan dx="0">−</tspan><tspan dx="-1.1">1</tspan></text><text x="196.5" y="141.2" font-size="14"><tspan font-style="italic" font-size="15.2" dx="0">σ</tspan><tspan font-size="10.3" letter-spacing="-0.35" dy="-5.0" dx="0.0">DMFT</tspan><tspan dy="5.0" dx="0.55">(</tspan><tspan font-style="italic" dx="0">ω</tspan><tspan dx="-0.9">)</tspan></text><text x="196.5" y="171.4" font-size="14"><tspan font-style="italic" font-size="15.2" dx="0">σ</tspan><tspan font-size="10.3" letter-spacing="-0.35" dy="-5.0" dx="0.0">DMFT</tspan><tspan dy="5.0" dx="0.55">(0)/</tspan><tspan font-style="italic" font-size="15.2" dx="-0.3">σ</tspan><tspan font-size="10.3" letter-spacing="-0.35" dy="-5.0" dx="-0.5">DMFT</tspan><tspan dy="5.0" dx="0.55">(</tspan><tspan font-style="italic" dx="0">ω</tspan><tspan dx="-0.9">)</tspan><tspan dx="0">−</tspan><tspan dx="-1.1">1</tspan></text><circle stroke="none" cx="182.4" cy="76.4" r="1.9" fill="#5e81b5"/><circle stroke="none" cx="182.4" cy="107.0" r="1.9" fill="#e19c24"/><path d="M173,135.1h6M181,135.1h6" stroke="#2828ff" stroke-width="1.6"/><path d="M173,165.5h6M181,165.5h6" stroke="#ff2828" stroke-width="1.6"/><text x="178.3" y="249.4" font-size="15.5"><tspan font-style="italic" dx="0">ω</tspan>/D</text><text transform="translate(17.0,133.3) rotate(-90)" font-size="15.5" letter-spacing="0.35"><tspan font-style="italic" dx="0">σ</tspan>(<tspan font-style="italic" dx="0">ω</tspan>) (<tspan font-style="italic" dx="0">σ</tspan><tspan font-size="10.5" dy="3">0</tspan><tspan dy="-3" dx="0.7">)</tspan></text></g>
</svg></body></html>
